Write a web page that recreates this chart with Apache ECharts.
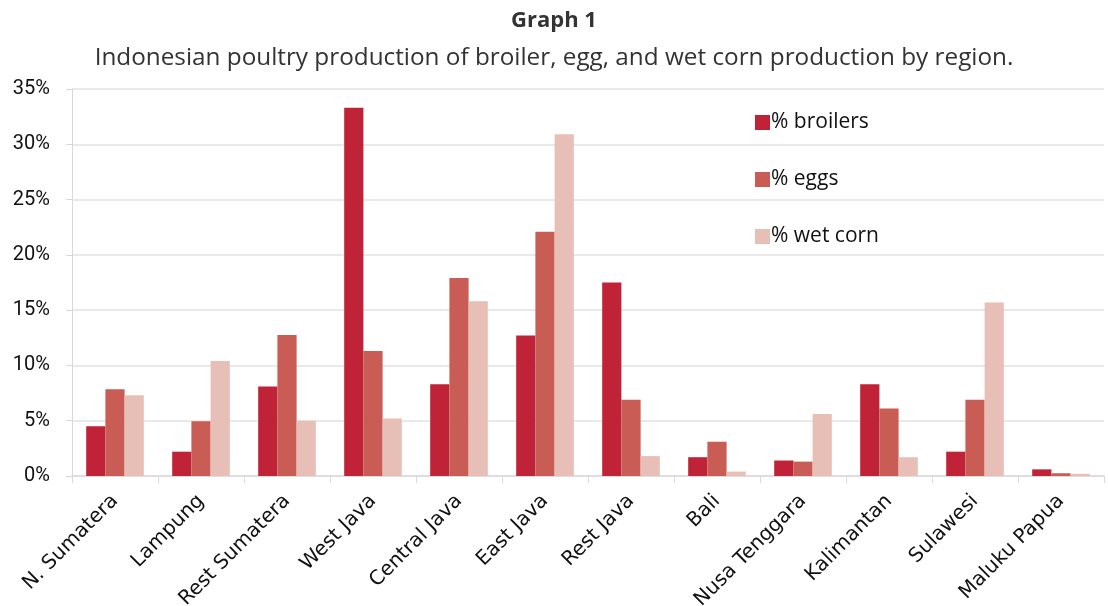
<!DOCTYPE html>
<html><head><meta charset="utf-8">
<script src="https://cdn.jsdelivr.net/npm/echarts@6/dist/echarts.min.js"></script>
<style>html,body{margin:0;padding:0;background:#fff}#c{width:1108px;height:606px}</style>
</head><body><div id="c"></div>
<script>
const categories = ["N. Sumatera","Lampung","Rest Sumatera","West Java","Central Java","East Java","Rest Java","Bali","Nusa Tenggara","Kalimantan","Sulawesi","Maluku Papua"];
const broilers = [4.5, 2.2, 8.1, 33.3, 8.3, 12.7, 17.5, 1.7, 1.4, 8.3, 2.2, 0.6];
const eggs     = [7.85, 4.95, 12.75, 11.3, 17.9, 22.1, 6.9, 3.1, 1.3, 6.1, 6.9, 0.25];
const wetCorn  = [7.3, 10.4, 5.0, 5.2, 15.8, 30.9, 1.8, 0.4, 5.6, 1.7, 15.7, 0.2];
const seriesNames = ["% broilers","% eggs","% wet corn"];
const colors = ["#C02337","#C95D56","#E8BFB6"];

const chart = echarts.init(document.getElementById('c'), null, {renderer:'canvas'});
const font = 'Roboto, "Noto Sans", sans-serif';
const wfont = '"Open Sans", Roboto, sans-serif';
chart.setOption({
  animation:false,
  title:[
    {text:"Graph 1", left:'center', top:5, textStyle:{fontFamily:wfont, fontWeight:'bold', fontSize:22, color:'#333'}},
    {text:"Indonesian poultry production of broiler, egg, and wet corn production by region.", left:'center', top:41, textStyle:{fontFamily:wfont, fontWeight:'normal', fontSize:24.3, color:'#333'}}
  ],
  legend:{
    orient:'vertical', left:750, top:107, itemGap:36, itemWidth:15, itemHeight:15,
    icon:'rect', textStyle:{fontFamily:wfont, fontSize:21, color:'#111', padding:[0,0,0,-4]},
    data:seriesNames
  },
  grid:{left:72, right:4, top:89, bottom:130, containLabel:false, outerBoundsMode:'none'},
  xAxis:{
    type:'category', data:categories,
    axisLine:{lineStyle:{color:'#d9d9d9', width:1.5}},
    axisTick:{show:true, length:7, lineStyle:{color:'#d9d9d9'}},
    axisLabel:{rotate:45, fontFamily:'"DejaVu Sans", Verdana, sans-serif', fontSize:20, color:'#111', margin:22, interval:0}
  },
  yAxis:{
    type:'value', min:0, max:35, interval:5,
    axisLabel:{formatter:'{value}%', fontFamily:font, fontSize:20, color:'#111', margin:22},
    axisLine:{show:true, lineStyle:{color:'#d9d9d9'}},
    axisTick:{show:true, length:6, inside:false, lineStyle:{color:'#d9d9d9'}},
    splitLine:{lineStyle:{color:'#e2e2e2', width:1.5}}
  },
  series:[
    {name:seriesNames[0], type:'bar', data:broilers, itemStyle:{color:colors[0]}, barGap:'0%', barCategoryGap:'33%'},
    {name:seriesNames[1], type:'bar', data:eggs, itemStyle:{color:colors[1]}, barGap:'0%', barCategoryGap:'33%'},
    {name:seriesNames[2], type:'bar', data:wetCorn, itemStyle:{color:colors[2]}, barGap:'0%', barCategoryGap:'33%'}
  ]
});
</script></body></html>
